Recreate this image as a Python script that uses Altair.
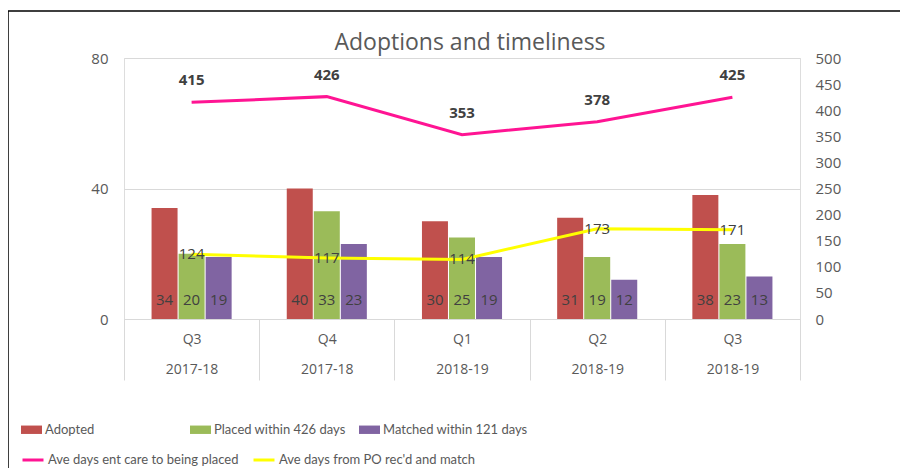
import altair as alt
import pandas as pd

quarters = ["Q3", "Q4", "Q1", "Q2", "Q3"]
years = ["2017-18", "2017-18", "2018-19", "2018-19", "2018-19"]
adopted = [34, 40, 30, 31, 38]
placed = [20, 33, 25, 19, 23]
matched = [19, 23, 19, 12, 13]
ave_placed = [415, 426, 353, 378, 425]
ave_match = [124, 117, 114, 173, 171]

bar_series = ["Adopted", "Placed within 426 days", "Matched within 121 days"]
line_series = ["Ave days ent care to being placed", "Ave days from PO rec'd and match"]
bar_colors = ["#C0504D", "#9BBB59", "#8064A2"]
line_colors = ["#FF1493", "#FFFF00"]

cats = [f"{q}|{y}" for q, y in zip(quarters, years)]

bar_rows = []
for i, c in enumerate(cats):
    for s, vals in zip(bar_series, [adopted, placed, matched]):
        bar_rows.append({"cat": c, "series": s, "value": vals[i]})
bars_df = pd.DataFrame(bar_rows)

line_rows = []
for s, vals in zip(line_series, [ave_placed, ave_match]):
    for i, c in enumerate(cats):
        line_rows.append({"cat": c, "series": s, "value": vals[i]})
lines_df = pd.DataFrame(line_rows)

GRAY = "#595959"
TXT = "#404040"
FONT = "Open Sans"
LFONT = "Lato"

x_enc = alt.X(
    "cat:N", sort=cats, title=None,
    scale=alt.Scale(paddingInner=0, paddingOuter=0),
    axis=alt.Axis(
        labelExpr="datum.value ? split(datum.value, '|') : ''", labelAngle=0,
        tickBand="extent", tickSize=61, tickColor="#D9D9D9", domainColor="#D9D9D9",
        labelPadding=-48, labelLineHeight=30, labelColor=GRAY, labelFontSize=14,
        labelFont=FONT,
    ),
)

x_off = alt.XOffset("series:N", sort=bar_series,
                    scale=alt.Scale(paddingOuter=1, paddingInner=0))

y_left = alt.Y(
    "value:Q", title=None, scale=alt.Scale(domain=[0, 80]),
    axis=alt.Axis(values=[0, 40, 80], grid=True, gridColor="#D9D9D9", domain=False,
                  ticks=False, labelPadding=16, labelColor=GRAY, labelFontSize=15,
                  labelFont=FONT, orient="left"),
)

bars = alt.Chart(bars_df).mark_bar(width=26).encode(
    x=x_enc,
    xOffset=x_off,
    y=y_left,
    color=alt.Color(
        "series:N", sort=bar_series,
        scale=alt.Scale(domain=bar_series, range=bar_colors),
        legend=alt.Legend(
            title=None, orient="none", legendX=-103, legendY=361, direction="horizontal",
            columns=3, gridAlign="all", columnPadding=0, padding=0, labelLimit=400,
            symbolType="M-1,-0.4H1V0.4H-1Z", symbolSize=441, symbolStrokeWidth=0,
            labelFontSize=13, labelColor=GRAY, labelFont=LFONT, labelOffset=3,
        ),
    ),
)

bar_text = alt.Chart(bars_df).mark_text(
    dy=-19, fontSize=15, color=TXT, font=FONT, baseline="middle"
).encode(
    x=x_enc,
    xOffset=x_off,
    y=alt.datum(0),
    text="value:Q",
)

left = alt.layer(bars, bar_text)

y_right = alt.Y(
    "value:Q", title=None, scale=alt.Scale(domain=[0, 500]),
    axis=alt.Axis(values=list(range(0, 501, 50)), grid=False, domain=False, ticks=False,
                  labelPadding=15, labelColor=GRAY, labelFontSize=15, labelFont=FONT,
                  orient="right"),
)

lines = alt.Chart(lines_df).mark_line(strokeWidth=3).encode(
    x=x_enc,
    y=y_right,
    stroke=alt.Stroke(
        "series:N", sort=line_series,
        scale=alt.Scale(domain=line_series, range=line_colors),
        legend=alt.Legend(
            title=None, orient="none", legendX=-103, legendY=390, direction="horizontal",
            columns=2, gridAlign="each", columnPadding=8, padding=0, labelLimit=400,
            symbolType="stroke", symbolSize=441, symbolStrokeWidth=3,
            labelFontSize=13, labelColor=GRAY, labelFont=LFONT, labelOffset=3,
        ),
    ),
)

pink_text = alt.Chart(lines_df).transform_filter(
    alt.datum.series == line_series[0]
).mark_text(dy=-22, fontSize=15, fontWeight="bold", color=TXT, font=FONT).encode(
    x=x_enc, y=y_right, text="value:Q"
)

yellow_text = alt.Chart(lines_df).transform_filter(
    alt.datum.series == line_series[1]
).mark_text(fontSize=15, color=TXT, font=FONT).encode(
    x=x_enc, y=y_right, text="value:Q"
)

right = alt.layer(lines, pink_text, yellow_text)

frame = alt.Chart(alt.Data(values=[{}])).mark_rect(
    filled=False, stroke="#000000", strokeWidth=1.5
).encode(
    x=alt.value(-116), x2=alt.value(1000), y=alt.value(-47), y2=alt.value(600)
)

chart = alt.layer(frame, left, right).resolve_scale(
    y="independent", color="independent", stroke="independent"
).properties(
    width=676, height=261,
    title=alt.TitleParams("Adoptions and timeliness", fontSize=23, color=GRAY, font=FONT,
                          fontWeight="normal", anchor="middle", offset=-63,
                          baseline="alphabetic", dx=8),
    autosize=alt.AutoSizeParams(type="none"),
    padding={"left": 116, "top": 50, "right": 100, "bottom": 150},
).configure_view(stroke=None).configure(background="white")

chart.save("out.html", embed_options={"renderer": "svg", "actions": False})
